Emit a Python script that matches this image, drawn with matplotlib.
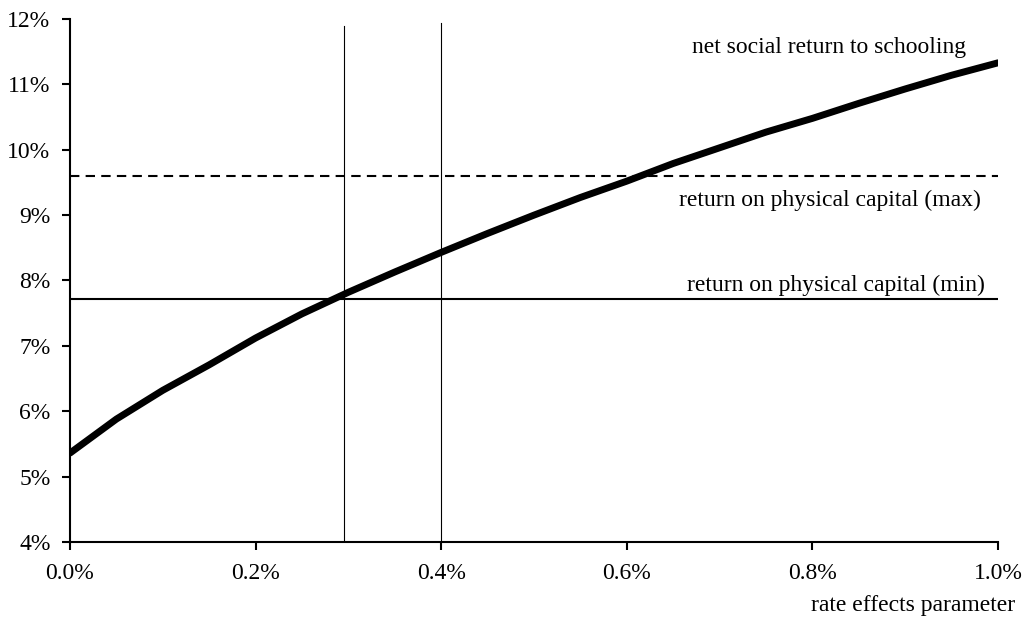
import numpy as np
import matplotlib.pyplot as plt
from matplotlib.ticker import FuncFormatter

# rate effects parameter (%) and net social return to schooling (%)
rate = [0.0, 0.05, 0.1, 0.15, 0.2, 0.25, 0.3, 0.35, 0.4, 0.45, 0.5,
        0.55, 0.6, 0.65, 0.7, 0.75, 0.8, 0.85, 0.9, 0.95, 1.0]
net_return = [5.36, 5.88, 6.32, 6.71, 7.12, 7.49, 7.82, 8.13, 8.43, 8.72, 9.0,
              9.27, 9.52, 9.79, 10.03, 10.27, 10.48, 10.71, 10.93, 11.14, 11.33]
cap_max = 9.6
cap_min = 7.72
vlines_x = [0.295, 0.4]
vlines_top = [11.89, 11.94]
xticks = [0.0, 0.2, 0.4, 0.6, 0.8, 1.0]
yticks = [4, 5, 6, 7, 8, 9, 10, 11, 12]

plt.rcParams['font.family'] = ['Liberation Serif', 'DejaVu Serif']
fig = plt.figure(figsize=(10.23, 6.19), dpi=100)
ax = fig.add_axes([0.0684, 0.1244, 0.9072, 0.8449])

ax.plot(rate, net_return, color='black', lw=5, solid_capstyle='round', zorder=3)
ax.axhline(cap_max, color='black', lw=1.5, ls=(0, (4.5, 3)))
ax.axhline(cap_min, color='black', lw=1.5)
for x, t in zip(vlines_x, vlines_top):
    ax.plot([x, x], [4, t], color='black', lw=0.8)

ax.text(0.818, 11.57, 'net social return to schooling', ha='center', va='center', fontsize=17)
ax.text(0.819, 9.23, 'return on physical capital (max)', ha='center', va='center', fontsize=17)
ax.text(0.825, 7.93, 'return on physical capital (min)', ha='center', va='center', fontsize=17)

ax.set_xlim(0, 1.0)
ax.set_ylim(4, 12)
ax.set_xticks(xticks)
ax.set_yticks(yticks)
ax.xaxis.set_major_formatter(FuncFormatter(lambda v, p: '%.1f%%' % v))
ax.yaxis.set_major_formatter(FuncFormatter(lambda v, p: '%d%%' % v))
ax.tick_params(direction='out', length=6, width=1.5, labelsize=17)
ax.tick_params(axis='x', pad=9)
ax.tick_params(axis='y', pad=8)
for s in ['top', 'right']:
    ax.spines[s].set_visible(False)
for s in ['left', 'bottom']:
    ax.spines[s].set_linewidth(1.5)

fig.text(1015 / 1023, 1 - 605 / 619, 'rate effects parameter', ha='right', va='center', fontsize=17)

fig.savefig('out.png', dpi=100)
